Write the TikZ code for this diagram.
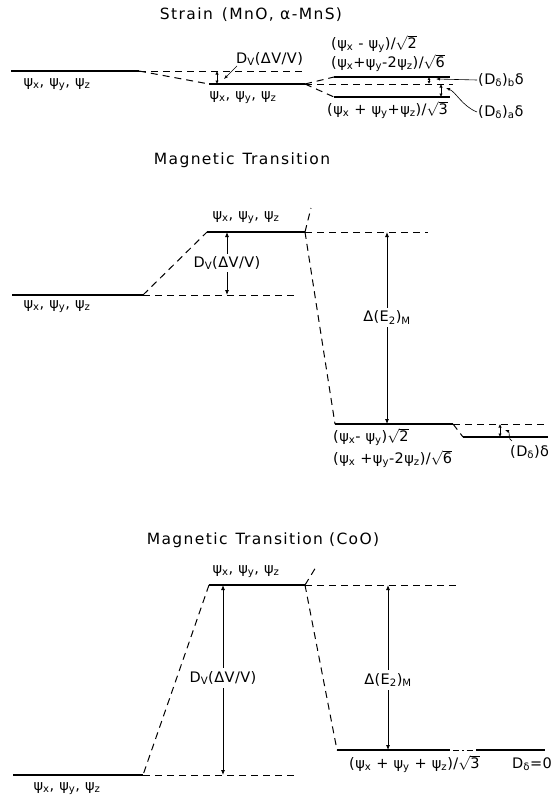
\documentclass[tikz,border=0pt]{standalone}
\usepackage{fontspec}
\setmainfont{DejaVu Sans}
\newfontfamily\lblfam[LetterSpace=3]{DejaVu Sans}
\newfontfamily\ttlfam[LetterSpace=9]{DejaVu Sans}
\usetikzlibrary{arrows.meta}
\newcommand{\ps}[1]{ψ\textsubscript{#1}}
\newcommand{\rt}[1]{$\sqrt{\mbox{#1}}$}
\begin{document}
\begin{tikzpicture}[x=1pt,y=-1pt,
  lvl/.style={line width=1.4pt},
  dsh/.style={line width=1pt, dash pattern=on 7pt off 5pt},
  dshdot/.style={line width=1pt, dash pattern=on 0pt off 3pt on 6pt off 3pt on 1.5pt off 3pt on 6pt off 3pt},
  darr/.style={line width=0.8pt, {Latex[length=5pt,width=4pt]}-{Latex[length=5pt,width=4pt]}},
  sarr/.style={line width=0.6pt, -{Latex[length=4pt,width=3pt]}},
  lbl/.style={font=\lblfam\fontsize{14.5}{16}\selectfont, inner sep=1pt},
  ttl/.style={font=\ttlfam\fontsize{15.5}{18}\selectfont, inner sep=1pt}]
\useasboundingbox (0,0) rectangle (557,800);

% ===== Section 1: Strain =====
\node[ttl] (t1) at (251,15) {Strain\hspace{9pt}(MnO, α-MnS)};
\coordinate (a1) at (11,71);
\coordinate (a2) at (139,71);
\coordinate (v1) at (304,71);
\coordinate (b1) at (209,84);
\coordinate (b2) at (305,84);
\coordinate (c1) at (334,77);
\coordinate (c2) at (450,77);
\coordinate (c3) at (334,97);
\coordinate (c4) at (450,97);
\coordinate (m2) at (453,84);
\draw[lvl] (a1) -- (a2);
\draw[dsh] (a2) -- (v1);
\draw[dsh] (a2) -- (b1);
\draw[lvl] (b1) -- (b2);
\draw[dsh] (b2) -- (c1);
\draw[dsh] (b2) -- (c3);
\draw[dsh] (b2) -- (m2);
\draw[lvl] (c1) -- (c2);
\draw[lvl] (c3) -- (c4);
\node[lbl] (p1) at (57,85) {\ps{x}, \ps{y}, \ps{z}};
\node[lbl] (p2) at (243,98) {\ps{x}, \ps{y}, \ps{z}};
\coordinate (iv1) at (217,71);
\coordinate (iv2) at (217,84);
\draw[darr, {Latex[length=3.5pt,width=3.5pt]}-{Latex[length=3.5pt,width=3.5pt]}] (iv1) -- (iv2);
\node[lbl, anchor=west] (dv1) at (235,59) {D\textsubscript{V}(ΔV/V)};
\coordinate (dv1t) at (224,79);
\draw[sarr] (dv1.south west) ++(2,-1) coordinate (dv1s) -- (dv1t);
\node[lbl, anchor=west] (s2) at (330,44) {(\ps{x} - \ps{y})/\rt{2}};
\node[lbl, anchor=west] (s6) at (330,63) {(\ps{x}+\ps{y}-2\ps{z})/\rt{6}};
\node[lbl, anchor=west] (s3) at (326,110) {(\ps{x} + \ps{y}+\ps{z})/\rt{3}};
\coordinate (ib1) at (429,77);
\coordinate (ib2) at (429,84);
\draw[darr, line width=0.7pt, {Latex[length=3pt,width=3pt]}-{Latex[length=3pt,width=3pt]}] (ib1) -- (ib2);
\coordinate (ia1) at (441,84);
\coordinate (ia2) at (441,97);
\draw[darr, {Latex[length=3.5pt,width=3.5pt]}-{Latex[length=3.5pt,width=3.5pt]}] (ia1) -- (ia2);
\node[lbl, anchor=west] (db) at (477,80) {(D\textsubscript{δ})\textsubscript{b}δ};
\node[lbl, anchor=west] (da) at (477,112) {(D\textsubscript{δ})\textsubscript{a}δ};
\coordinate (dbt) at (436,79);
\coordinate (dat) at (446,88);
\draw[sarr] (db.west) -- (dbt);
\draw[sarr] (da.west) .. controls (462,106) and (456,92) .. (dat);

% ===== Section 2: Magnetic Transition =====
\node[ttl] (t2) at (242,160) {Magnetic\hspace{8pt}Transition};
\coordinate (l1) at (12,295);
\coordinate (l2) at (143,295);
\coordinate (l3) at (295,295);
\coordinate (u1) at (207,232);
\coordinate (u2) at (305,232);
\coordinate (u3) at (428,232);
\coordinate (u4) at (311,208);
\coordinate (r1) at (335,424);
\coordinate (r2) at (453,424);
\coordinate (r5) at (548,424);
\coordinate (r3) at (463,437);
\coordinate (r4) at (548,437);
\draw[lvl] (l1) -- (l2);
\draw[dsh] (l2) -- (l3);
\draw[dsh] (l2) -- (u1);
\draw[lvl] (u1) -- (u2);
\draw[dsh] (u2) -- (u3);
\draw[dsh] (u2) -- (u4);
\draw[dsh] (u2) -- (r1);
\draw[lvl] (r1) -- (r2);
\draw[dsh] (r2) -- (r5);
\draw[dsh] (r2) -- (r3);
\draw[lvl] (r3) -- (r4);
\node[lbl] (p3) at (57,307) {\ps{x}, \ps{y}, \ps{z}};
\node[lbl] (p4) at (246,218) {\ps{x}, \ps{y}, \ps{z}};
\coordinate (e1) at (227,232);
\coordinate (e2) at (227,295);
\draw[darr] (e1) -- (e2) node[lbl, fill=white, pos=0.49, inner sep=2pt] (dv2) {D\textsubscript{V}(ΔV/V)};
\coordinate (f1) at (387,232);
\coordinate (f2) at (387,424);
\draw[darr] (f1) -- (f2) node[lbl, fill=white, pos=0.445, inner sep=3pt] (de2) {Δ(E\textsubscript{2})\textsubscript{M}};
\node[lbl, anchor=west] (q2) at (332,437) {(\ps{x}- \ps{y})\rt{2}};
\node[lbl, anchor=west] (q6) at (332,459) {(\ps{x} +\ps{y}-2\ps{z})/\rt{6}};
\coordinate (g1) at (500,424);
\coordinate (g2) at (500,437);
\draw[darr, {Latex[length=3.5pt,width=3.5pt]}-{Latex[length=3.5pt,width=3.5pt]}] (g1) -- (g2);
\node[lbl, anchor=west] (dd) at (509,452) {(D\textsubscript{δ})δ};
\coordinate (ddt) at (505,430);
\draw[sarr] (dd.north west) ++(3,-3) coordinate (dds) .. controls (508,440) and (510,432) .. (ddt);

% ===== Section 3: Magnetic Transition (CoO) =====
\node[ttl] (t3) at (263,540) {Magnetic\hspace{8pt}Transition\hspace{6pt}(CoO)};
\coordinate (h1) at (209,585);
\coordinate (h2) at (305,585);
\coordinate (h3) at (457,585);
\coordinate (h4) at (316,567);
\coordinate (k0) at (13,775);
\coordinate (k1) at (143,775);
\coordinate (k2) at (298,775);
\coordinate (n1) at (337,750);
\coordinate (n2) at (450,750);
\coordinate (n3) at (476,750);
\coordinate (n4) at (545,750);
\draw[lvl] (h1) -- (h2);
\draw[dsh] (h1) -- (k1);
\draw[lvl] (k0) -- (k1);
\draw[dsh] (k1) -- (k2);
\draw[dsh] (h2) -- (h3);
\draw[dsh] (h2) -- (h4);
\draw[dsh] (h2) -- (n1);
\draw[lvl] (n1) -- (n2);
\draw[dshdot] (n2) -- (n3);
\draw[lvl] (n3) -- (n4);
\node[lbl] (p5) at (246,572) {\ps{x}, \ps{y}, \ps{z}};
\node[lbl] (p6) at (67,789) {\ps{x}, \ps{y}, \ps{z}};
\coordinate (w1) at (223,585);
\coordinate (w2) at (223,775);
\draw[darr] (w1) -- (w2) node[lbl, fill=white, pos=0.49, inner sep=3pt] (dv3) {D\textsubscript{V}(ΔV/V)};
\coordinate (z1) at (388,585);
\coordinate (z2) at (388,750);
\draw[darr] (z1) -- (z2) node[lbl, fill=white, pos=0.576, inner sep=3pt] (de3) {Δ(E\textsubscript{2})\textsubscript{M}};
\node[lbl, anchor=west] (o3) at (348,764) {(\ps{x} + \ps{y} + \ps{z})/\rt{3}};
\node[lbl, anchor=west] (d0) at (511,764) {D\textsubscript{δ}=0};
\end{tikzpicture}
\end{document}
